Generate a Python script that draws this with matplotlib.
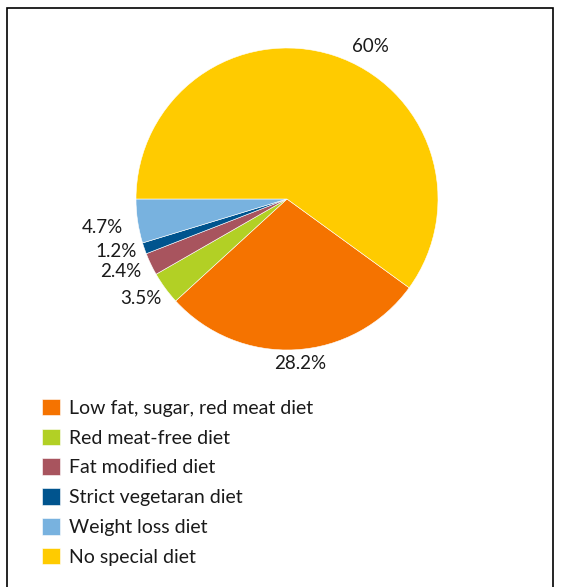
import matplotlib.pyplot as plt
from matplotlib.patches import Rectangle

plt.rcParams['font.family'] = ['Lato', 'DejaVu Sans']

# legend order; slices drawn clockwise starting at -36 degrees
diets = ["Low fat, sugar, red meat diet", "Red meat-free diet", "Fat modified diet",
         "Strict vegetaran diet", "Weight loss diet", "No special diet"]
shares = [28.2, 3.5, 2.4, 1.2, 4.7, 60]
pct_labels = ["28.2%", "3.5%", "2.4%", "1.2%", "4.7%", "60%"]
colors = ["#F57300", "#B2D025", "#A8545E", "#00548E", "#78B2DF", "#FFCB00"]

# label positions in units of the pie radius
label_pos = [(0.09, -1.09), (-0.97, -0.66), (-1.10, -0.48), (-1.13, -0.35), (-1.22, -0.19), (0.55, 1.01)]

W, H = 566, 587
fig = plt.figure(figsize=(W / 100, H / 100), dpi=100)

cx, cy, r = 287, 199, 151
ax = fig.add_axes([(cx - r) / W, (H - cy - r) / H, 2 * r / W, 2 * r / H])
wedges, _ = ax.pie(shares, colors=colors, startangle=-36, counterclock=False,
                   radius=1, wedgeprops=dict(edgecolor="white", linewidth=0.4))
ax.set_xlim(-1, 1)
ax.set_ylim(-1, 1)
ax.set_aspect("equal")
ax.axis("off")

for lab, (x, y) in zip(pct_labels, label_pos):
    ax.text(x, y, lab, ha="center", va="center", fontsize=13.5, color="#1a1a1a")

# outer frame
fig.patches.append(Rectangle((7 / W, -0.05), 546 / W, 1 - 8 / H + 0.05,
                             transform=fig.transFigure, fill=False,
                             edgecolor="black", linewidth=1.2))

fig.legend(wedges, diets, loc="upper left", bbox_to_anchor=(34 / W, 1 - 391 / H),
           frameon=False, fontsize=14, handlelength=0.93, handleheight=0.93,
           handletextpad=0.45, labelspacing=0.61, borderaxespad=0,
           labelcolor="#1a1a1a")

fig.savefig("out.png", dpi=100)
